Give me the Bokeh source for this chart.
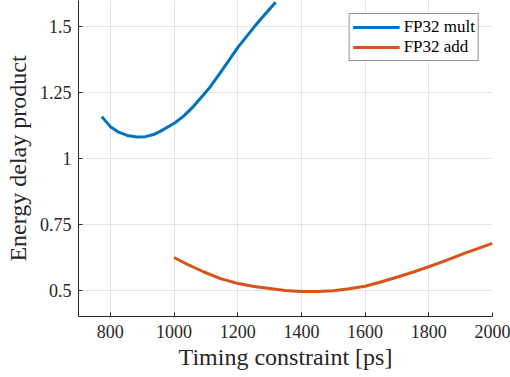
from bokeh.plotting import figure
from bokeh.models import Range1d, FixedTicker, Legend, LegendItem
from bokeh.embed import file_html
from bokeh.resources import INLINE

# Energy-delay product vs. timing constraint
mult_t = [773, 800, 826, 857, 883, 910, 936, 958, 1002, 1031, 1062, 1094, 1113,
          1150, 1201, 1252, 1285, 1319]
mult_edp = [1.159, 1.121, 1.100, 1.086, 1.082, 1.083, 1.091, 1.104, 1.135, 1.162,
            1.199, 1.244, 1.271, 1.334, 1.423, 1.500, 1.547, 1.593]

add_t = [1000, 1042, 1094, 1146, 1202, 1251, 1300, 1350, 1400, 1450, 1500, 1550,
         1600, 1649, 1702, 1754, 1802, 1859, 1911, 2000]
add_edp = [0.624, 0.598, 0.569, 0.544, 0.525, 0.514, 0.506, 0.499, 0.495, 0.495,
           0.498, 0.505, 0.515, 0.531, 0.550, 0.570, 0.590, 0.615, 0.640, 0.678]

x_ticks = [800, 1000, 1200, 1400, 1600, 1800, 2000]
y_ticks = [0.5, 0.75, 1.0, 1.25, 1.5]
y_tick_labels = ["0.5", "0.75", "1", "1.25", "1.5"]

FONT = "Liberation Serif"
TXT = "#262626"

p = figure(width=510, height=377, output_backend="svg", toolbar_location=None,
           x_range=Range1d(700, 2000), y_range=Range1d(0.4, 1.6),
           min_border_left=78, min_border_right=18, min_border_top=0, min_border_bottom=61)
p.outline_line_color = None
p.background_fill_color = "white"

for ax in (p.xaxis[0], p.yaxis[0]):
    ax.axis_line_color = TXT
    ax.major_tick_line_color = TXT
    ax.major_tick_in = 4
    ax.major_tick_out = 0
    ax.minor_tick_line_color = None
    ax.major_label_text_font = FONT
    ax.major_label_text_font_size = "18px"
    ax.major_label_text_color = TXT
    ax.axis_label_text_font = FONT
    ax.axis_label_text_font_size = "24px"
    ax.axis_label_text_font_style = "normal"
    ax.axis_label_text_color = TXT

p.xaxis.ticker = FixedTicker(ticks=x_ticks)
p.yaxis.ticker = FixedTicker(ticks=y_ticks)
p.yaxis.major_label_overrides = {t: s for t, s in zip(y_ticks, y_tick_labels)}
p.xaxis.axis_label = "Timing constraint [ps]"
p.yaxis.axis_label = "Energy delay product"
p.xaxis.major_label_standoff = 8
p.yaxis.major_label_standoff = 7
p.xaxis.axis_label_standoff = 3
p.yaxis.axis_label_standoff = 6

p.xgrid.grid_line_color = "#e3e3e3"
p.ygrid.grid_line_color = "#e3e3e3"

r1 = p.line(mult_t, mult_edp, line_color="#0072BD", line_width=3, line_join="round")
r2 = p.line(add_t, add_edp, line_color="#D95319", line_width=3, line_join="round")

legend = Legend(items=[LegendItem(label="FP32 mult", renderers=[r1]),
                       LegendItem(label="FP32 add", renderers=[r2])],
                location="top_right")
legend.label_text_font = FONT
legend.label_text_font_size = "17px"
legend.label_text_color = "black"
legend.glyph_width = 47
legend.glyph_height = 20
legend.label_height = 20
legend.label_standoff = 4
legend.spacing = 0
legend.padding = 3
legend.margin = 13
legend.border_line_color = "#262626"
legend.border_line_width = 1
legend.background_fill_alpha = 1
p.add_layout(legend)

open("out.html", "w").write(file_html(p, INLINE))
